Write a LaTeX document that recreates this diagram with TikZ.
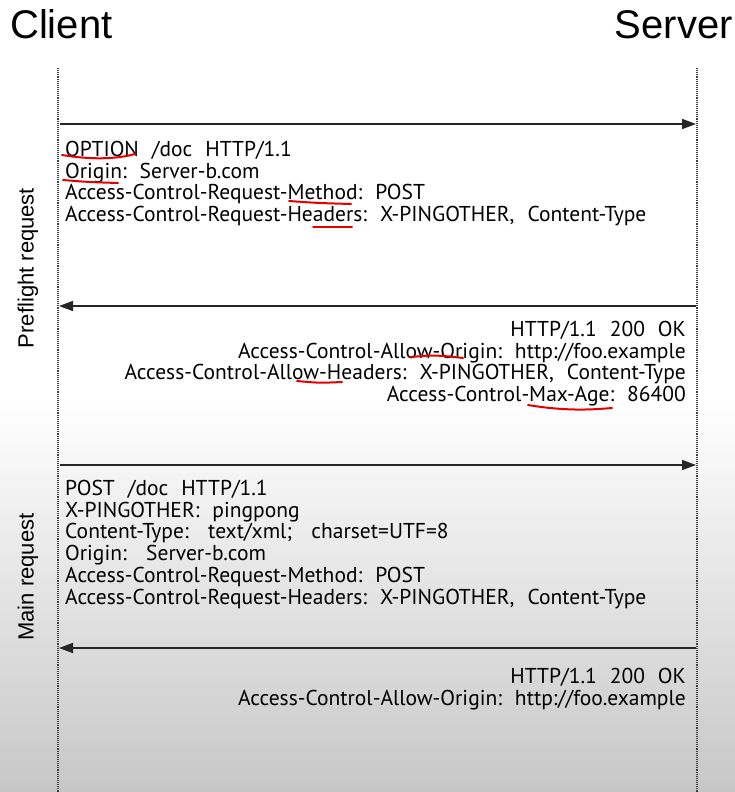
\documentclass[tikz,border=0pt]{standalone}
\usepackage{fontspec}
\setmainfont{PT Sans}
\newfontfamily\headfont{Liberation Sans}
\newcommand\msgfont{\fontsize{21.5}{21.7}\selectfont\setlength{\spaceskip}{6.5pt}}
\usetikzlibrary{arrows.meta,positioning}

\begin{document}
\begin{tikzpicture}[x=1pt, y=-1pt,
  head/.style={font=\headfont\fontsize{40}{40}\selectfont, inner sep=0, anchor=base west},
  phase/.style={font=\headfont\fontsize{22}{22}\selectfont, rotate=90, inner sep=0},
  msg/.style={font=\msgfont, inner sep=0},
  life/.style={densely dotted, line width=1.1pt, black!75},
  arr/.style={-{Triangle[length=14pt,width=10pt]}, line width=1.6pt, black!85},
  redline/.style={red!90!black, line width=2pt, line cap=round}
]
\useasboundingbox (0,0) rectangle (735,792);
\fill[white] (0,0) rectangle (735,792);
\shade[top color=white, bottom color=black!22] (0,400) rectangle (735,792);

\node[head] (client) at (10,38) {Client};
\node[head, anchor=base east] (server) at (733,38) {Server};

\coordinate (ctop) at (58,68);
\coordinate (cbot) at (58,792);
\coordinate (stop) at (697,68);
\coordinate (sbot) at (697,792);
\draw[life] (ctop) -- (cbot);
\draw[life] (stop) -- (sbot);

\node[phase] (preflight) at (28,268) {Preflight request};
\node[phase] (main) at (28,577) {Main request};

\coordinate (c1) at (60,124);
\coordinate (s1) at (696,124);
\coordinate (c2) at (59,306);
\coordinate (s2) at (696,306);
\coordinate (c3) at (60,465);
\coordinate (s3) at (696,465);
\coordinate (c4) at (59,648);
\coordinate (s4) at (696,648);
\draw[arr] (c1) -- (s1);
\draw[arr] (s2) -- (c2);
\draw[arr] (c3) -- (s3);
\draw[arr] (s4) -- (c4);

\node[msg, align=left, anchor=north west] (optreq) at (65,141)
{OPTION~~/doc~~HTTP/1.1\\
Origin:~~Server-b.com\\
Access-Control-Request-Method:~~POST\\
Access-Control-Request-Headers:~~X-PINGOTHER,~~Content-Type};
\node[msg, align=right, anchor=north east] (optresp) at (686,321)
{HTTP/1.1~~200~~OK\\
Access-Control-Allow-Origin:~~http://foo.example\\
Access-Control-Allow-Headers:~~X-PINGOTHER,~~Content-Type\\
Access-Control-Max-Age:~~86400};
\node[msg, align=left, anchor=north west] (postreq) at (65,480)
{POST~~/doc~~HTTP/1.1\\
X-PINGOTHER:~~pingpong\\
Content-Type:~~~text/xml;~~~charset=UTF=8\\
Origin:~~~Server-b.com\\
Access-Control-Request-Method:~~POST\\
Access-Control-Request-Headers:~~X-PINGOTHER,~~Content-Type};
\node[msg, align=right, anchor=north east] (postresp) at (686,668)
{HTTP/1.1~~200~~OK\\
Access-Control-Allow-Origin:~~http://foo.example};

\draw[redline] (62,155) .. controls (92,160) and (117,159) .. (135,154);
\draw[redline] (63,180) .. controls (87,182) .. (118,183);
\draw[redline] (289,201) .. controls (317,203) .. (351,204);
\draw[redline] (313,227) -- (352,227);
\draw[redline] (410,357) .. controls (436,355) .. (463,358);
\draw[redline] (297,381) .. controls (319,383) .. (342,382);
\draw[redline] (528,405) .. controls (564,411) and (589,410) .. (612,408);
\end{tikzpicture}
\end{document}
